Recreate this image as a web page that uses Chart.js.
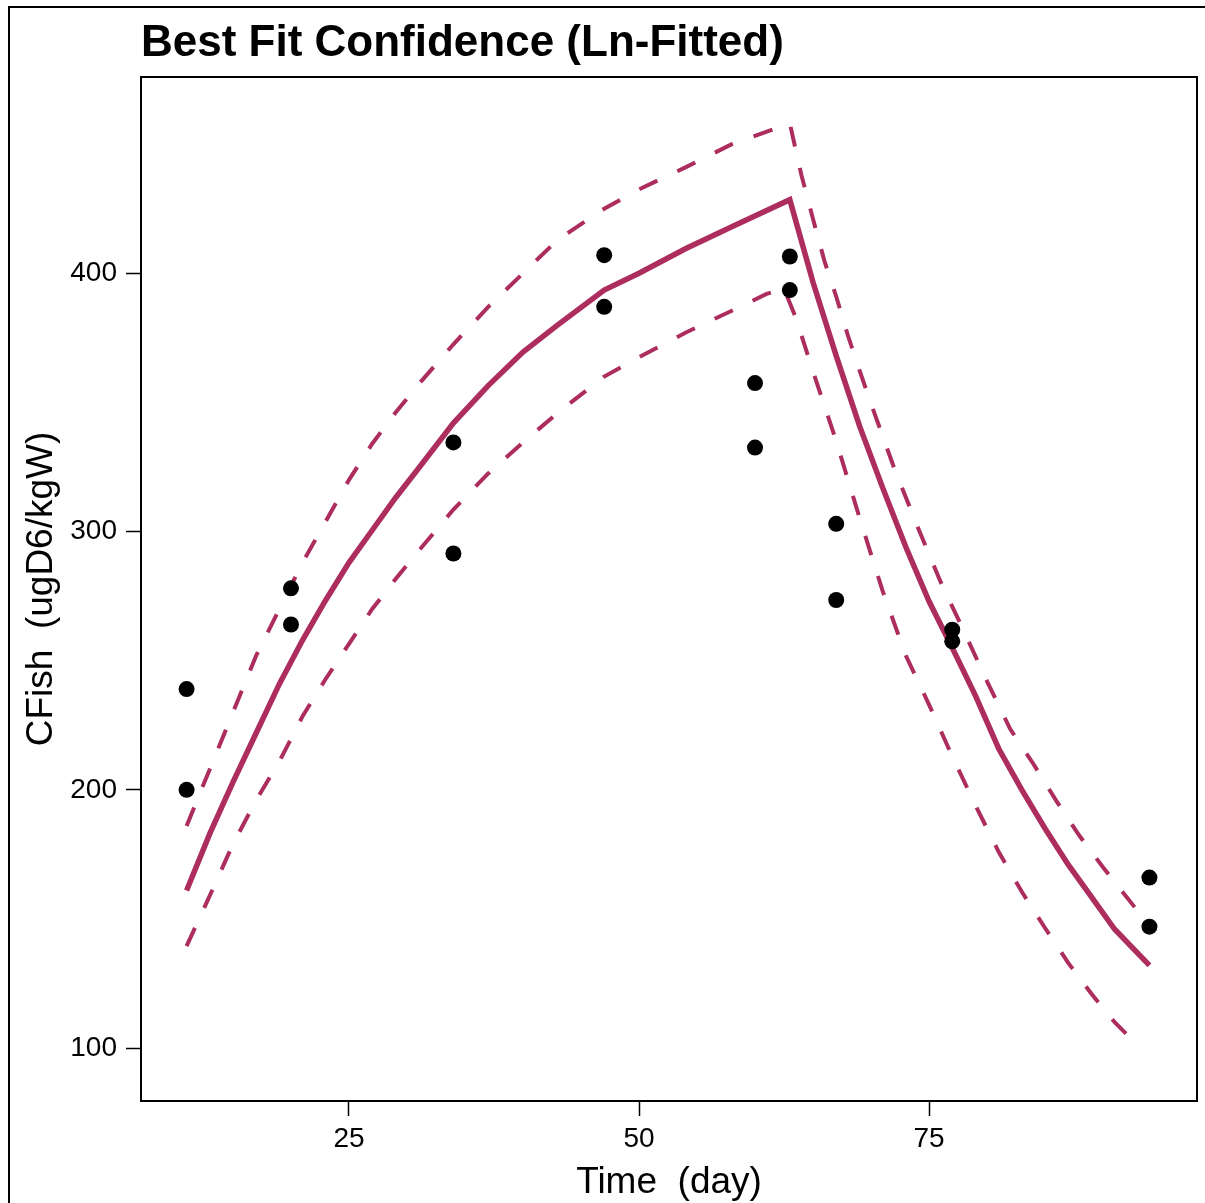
<!DOCTYPE html>
<html>
<head>
<meta charset="utf-8">
<script src="https://cdn.jsdelivr.net/npm/chart.js@4/dist/chart.umd.min.js"></script>
<style>
  html, body { margin: 0; padding: 0; background: #fff; }
  #wrap { position: relative; width: 1205px; height: 1203px; overflow: hidden; }
  #frame { position: absolute; left: 8px; top: 6px; width: 1300px; height: 1300px;
    border-left: 2px solid #000; border-top: 2px solid #000; }
  canvas { position: absolute; left: 0; top: 0; }
</style>
</head>
<body>
<div id="wrap">
  <div id="frame"></div>
  <canvas id="chart" width="1205" height="1203"></canvas>
</div>
<script>
// Подписи
const titleText = 'Best Fit Confidence (Ln-Fitted)';
const xTitle = 'Time  (day)';
const yTitle = 'CFish  (ugD6/kgW)';
const xTicks = [25, 50, 75];
const yTicks = [100, 200, 300, 400];

// Наблюдения
const obsTime = [11, 11, 20, 20, 34, 34, 47, 47, 60, 60, 63, 63, 67, 67, 77, 77, 94, 94];
const obsValues = [239, 200, 278, 264, 334.5, 291.5, 407, 387, 357.5, 332.5, 406.5, 393.5, 303, 273.5, 262, 257.5, 166, 147];

// Кривая подгонки
const fitTime = [11, 13, 15, 17, 19, 21, 23, 25, 27, 29, 31, 34, 37, 40, 43, 47, 50, 54, 58, 63,
  65, 67, 69, 71, 73, 75, 77, 79, 81, 83, 85, 87, 89, 91, 94];
const fitValues = [161, 183, 203, 222, 241, 258, 273.5, 288, 300.5, 313, 324.5, 342, 356.5, 369.5, 380, 393.5, 400, 409.5, 418, 428.5,
  396.5, 368, 341, 317, 294, 273, 255, 236.5, 216, 200, 185, 171, 158.5, 146, 132];

// Верхняя граница
const upperTime = [11, 13, 15, 17, 19, 21, 23, 25, 27, 29, 31, 34, 37, 40, 43, 47, 50, 54, 58, 63,
  64, 65, 66, 67, 68, 69, 70, 71, 72, 74, 76, 78, 80, 82, 84, 86, 88, 90, 93];
const upperValues = [186, 208, 230, 252, 270, 288, 304, 320, 334, 346, 357, 372.5, 387, 400, 413, 425, 432.5, 441, 450, 458,
  438, 421, 404.5, 391, 376, 362.5, 349.5, 337, 324.5, 302, 280.5, 261.5, 242, 223.5, 210, 195.5, 182, 170, 153];

// Нижняя граница
const lowerTime = [11, 13, 15, 17, 19, 21, 23, 25, 27, 29, 31, 34, 37, 40, 43, 47, 50, 54, 58, 61, 62.5,
  63.5, 65, 67, 69, 71, 73, 75, 77, 79, 81, 83, 85, 87, 89, 91, 93];
const lowerValues = [139.5, 159, 179, 196, 211, 228.5, 243, 256.5, 270, 281.5, 292.5, 308.5, 322.5, 334.5, 346, 360, 367.5, 377, 385.5, 392, 394,
  383, 362, 335, 305.5, 277, 252, 233, 213, 194, 176, 160.5, 146.5, 133, 121, 110, 101];

const family = "'Liberation Sans', Arial, sans-serif";
const lineColor = '#AC2D5E';

const toPoints = (xs, ys) => xs.map((x, i) => ({ x, y: ys[i] }));

// Рамка и подписи в стиле R
const plotDecor = {
  id: 'plotDecor',
  afterDraw(chart) {
    const {
      ctx, chartArea: {
        left, right, top, bottom,
      },
    } = chart;
    ctx.save();
    ctx.strokeStyle = '#000';
    ctx.lineWidth = 2;
    ctx.strokeRect(left, top, right - left, bottom - top);

    ctx.fillStyle = '#000';
    ctx.textBaseline = 'alphabetic';
    ctx.font = `bold 44px ${family}`;
    ctx.textAlign = 'left';
    ctx.fillText(titleText, left, 56);

    ctx.font = `37px ${family}`;
    ctx.textAlign = 'center';
    ctx.fillText(xTitle, (left + right) / 2, 1193);

    ctx.translate(52, (top + bottom) / 2);
    ctx.rotate(-Math.PI / 2);
    ctx.fillText(yTitle, 0, 0);
    ctx.restore();
  },
};

const axisCommon = {
  type: 'linear',
  border: { display: false },
  grid: {
    drawOnChartArea: false,
    drawTicks: true,
    tickLength: 15,
    tickColor: '#000',
    tickWidth: 1.5,
  },
  ticks: {
    color: '#000',
    font: { size: 28, family },
  },
};

new Chart(document.getElementById('chart'), {
  data: {
    datasets: [
      {
        type: 'scatter',
        data: toPoints(obsTime, obsValues),
        pointRadius: 8,
        pointHoverRadius: 8,
        pointBackgroundColor: '#000',
        pointBorderWidth: 0,
      },
      {
        type: 'line',
        data: toPoints(fitTime, fitValues),
        borderColor: lineColor,
        borderWidth: 5.5,
        pointRadius: 0,
        tension: 0,
        fill: false,
      },
      {
        type: 'line',
        data: toPoints(upperTime, upperValues),
        borderColor: lineColor,
        borderWidth: 4,
        borderDash: [20, 22],
        pointRadius: 0,
        tension: 0,
        fill: false,
      },
      {
        type: 'line',
        data: toPoints(lowerTime, lowerValues),
        borderColor: lineColor,
        borderWidth: 4,
        borderDash: [20, 22],
        pointRadius: 0,
        tension: 0,
        fill: false,
      },
    ],
  },
  options: {
    responsive: false,
    animation: false,
    devicePixelRatio: 1,
    events: [],
    layout: {
      padding: {
        left: 0, top: 77, right: 8, bottom: 0,
      },
    },
    scales: {
      x: {
        ...axisCommon,
        min: 7.07,
        max: 98.1,
        afterBuildTicks: (s) => { s.ticks = xTicks.map((value) => ({ value })); },
        afterFit: (s) => { s.height = 102; },
        ticks: { ...axisCommon.ticks, padding: 6, maxRotation: 0 },
      },
      y: {
        ...axisCommon,
        min: 79.5,
        max: 476,
        afterBuildTicks: (s) => { s.ticks = yTicks.map((value) => ({ value })); },
        afterFit: (s) => { s.width = 141; },
        ticks: { ...axisCommon.ticks, padding: 9 },
      },
    },
    plugins: {
      legend: { display: false },
      tooltip: { enabled: false },
      title: { display: false },
    },
  },
  plugins: [plotDecor],
});
</script>
</body>
</html>
